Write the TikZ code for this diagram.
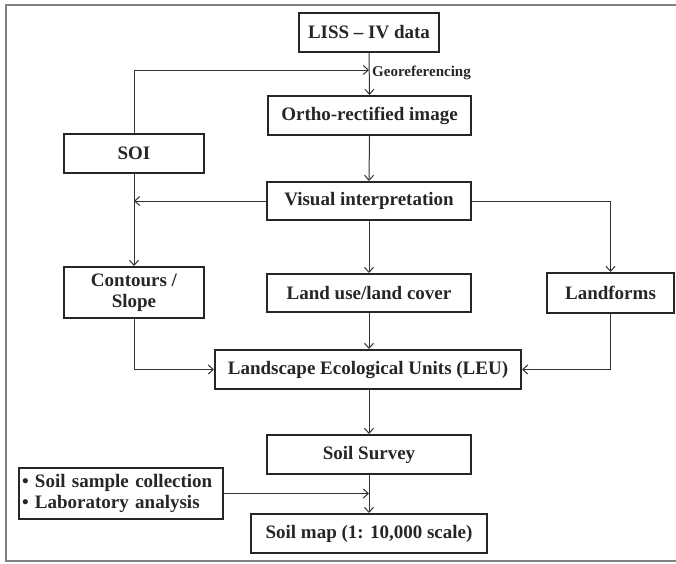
\documentclass[tikz,border=0pt]{standalone}
\usepackage{fontspec}
\setmainfont{Liberation Serif}
\usetikzlibrary{arrows.meta}
\begin{document}
\begin{tikzpicture}[x=1pt,y=-1pt,
  box/.style={draw=black!85, line width=2pt, fill=white, inner sep=2pt,
    font=\fontsize{19}{21}\selectfont\bfseries, text=black!85, align=center},
  arr/.style={draw=black!80, line width=1pt, -{Straight Barb[length=5pt,width=9pt]}},
  ln/.style={draw=black!80, line width=1pt}]
\useasboundingbox (0,0) rectangle (676,563);
% outer frame (open on the right)
\draw[gray, line width=1.8pt] (676,5) -- (6,5) -- (6,561) -- (676,561);
% nodes
\node[box, minimum width=140pt, minimum height=39pt] (liss) at (369,32.5) {LISS -- IV data};
\node[box, minimum width=203pt, minimum height=39pt] (ortho) at (369.5,115.5) {Ortho-rectified image};
\node[box, minimum width=140pt, minimum height=39pt] (soi) at (134,153.5) {SOI};
\node[box, minimum width=204pt, minimum height=38pt] (visual) at (369,201) {Visual interpretation};
\node[box, minimum width=140pt, minimum height=51pt] (contours) at (134,292.5) {Contours /\\Slope};
\node[box, minimum width=204pt, minimum height=38pt] (landuse) at (369,293) {Land use/land cover};
\node[box, minimum width=127pt, minimum height=40pt] (landforms) at (610.5,293) {Landforms};
\node[box, minimum width=306pt, minimum height=39pt] (leu) at (368,369.5) {Landscape Ecological Units (LEU)};
\node[box, minimum width=204pt, minimum height=39pt] (survey) at (369,454.5) {Soil Survey};
\node[box, minimum width=204pt, minimum height=51pt, text width=198pt, inner xsep=3pt, align=left] (sample) at (121,493.5) {• Soil sample collection\\• Laboratory analysis};
\node[box, minimum width=236pt, minimum height=39pt] (soilmap) at (369,533.5) {Soil map (1: 10,000 scale)};
% helper coordinates
\coordinate (geo) at (369,70);
\coordinate (smp) at (369,493.5);
% label
\node[anchor=west, inner sep=0pt, font=\fontsize{15}{17}\selectfont\bfseries, text=black!85] (georef) at (372,73) {Georeferencing};
% connectors
\draw[arr] (liss.south) -- (ortho.north);
\draw[arr] (soi.north) |- (geo);
\draw[arr] (ortho.south) -- (visual.north);
\draw[arr] (visual.west) -- (visual.west -| soi.south);
\draw[arr] (soi.south) -- (contours.north);
\draw[arr] (visual.east) -| (landforms.north);
\draw[arr] (visual.south) -- (landuse.north);
\draw[arr] (contours.south) |- (leu.west);
\draw[arr] (landuse.south) -- (leu.north -| landuse.south);
\draw[arr] (landforms.south) |- (leu.east);
\draw[arr] (leu.south -| survey.north) -- (survey.north);
\draw[arr] (survey.south) -- (soilmap.north);
\draw[arr] (sample.east) -- (smp);
\end{tikzpicture}
\end{document}
